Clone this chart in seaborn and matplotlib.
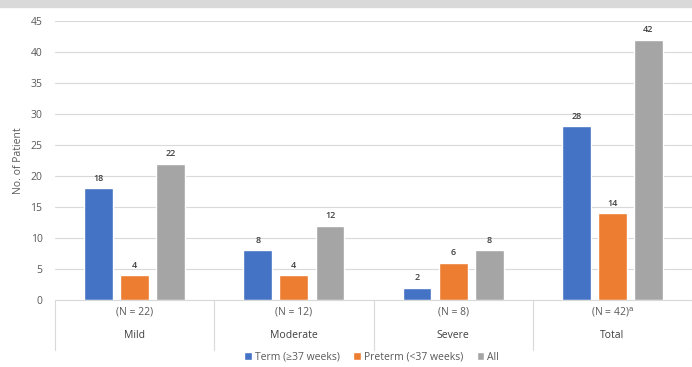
import pandas as pd
import matplotlib
matplotlib.use("Agg")
import matplotlib.pyplot as plt
import seaborn as sns
from matplotlib.patches import Rectangle
from matplotlib.transforms import blended_transform_factory

# data
categories = ["Mild", "Moderate", "Severe", "Total"]
n_labels = ["(N = 22)", "(N = 12)", "(N = 8)", "(N = 42)$^{\\mathrm{a}}$"]
series = ["Term (\u226537 weeks)", "Preterm (<37 weeks)", "All"]
term = [18, 8, 2, 28]
preterm = [4, 4, 6, 14]
all_pts = [22, 12, 8, 42]
colors = ["#4472C4", "#ED7D31", "#A5A5A5"]

rows = []
for name, vals in zip(series, [term, preterm, all_pts]):
    for cat, v in zip(categories, vals):
        rows.append({"cat": cat, "series": name, "value": v})
df = pd.DataFrame(rows)

sns.set_style("white")
plt.rcParams["font.family"] = ["Open Sans", "DejaVu Sans"]
text_col = "#595959"

fig = plt.figure(figsize=(6.92, 3.67), dpi=100)
fig.patches.append(Rectangle((0, 1 - 7 / 367), 1, 7 / 367, transform=fig.transFigure,
                             color="#D9D9D9", zorder=0))
ax = fig.add_axes([55 / 692, 1 - 300 / 367, 637 / 692, 279 / 367])

sns.barplot(data=df, x="cat", y="value", hue="series", palette=colors,
            width=0.68, gap=0.2, ax=ax, legend=True, saturation=1)

for c in ax.containers:
    ax.bar_label(c, fontsize=6.5, padding=4, color="#404040", fontweight="semibold")

ax.set_ylim(0, 45)
ax.set_yticks(range(0, 46, 5))
ax.set_xlim(-0.5, 3.5)
ax.yaxis.grid(True, color="#D9D9D9", lw=0.8)
ax.set_axisbelow(True)
for s in ["top", "right", "left"]:
    ax.spines[s].set_visible(False)
ax.spines["bottom"].set_color("#D9D9D9")
ax.tick_params(axis="y", labelsize=7.5, colors=text_col, length=0, pad=9)
ax.set_ylabel("No. of Patient", fontsize=7.5, color=text_col, labelpad=5)
ax.set_xlabel("")
ax.set_xticks([])

# two-level category axis
tr = blended_transform_factory(ax.transData, ax.transAxes)
for i, (cat, nl) in enumerate(zip(categories, n_labels)):
    ax.text(i, -12 / 279, nl, transform=tr, ha="center", va="center",
            fontsize=7.5, color=text_col)
    ax.text(i, -36 / 279, cat, transform=tr, ha="center", va="center",
            fontsize=7.5, color="#404040")
for x in [-0.5, 0.5, 1.5, 2.5, 3.5]:
    ax.plot([x, x], [0, -50 / 279], transform=tr, color="#D9D9D9", lw=0.8,
            clip_on=False)

handles, labels = ax.get_legend_handles_labels()
ax.legend(handles, labels, loc="center", bbox_to_anchor=(0.497, -57 / 279),
          ncol=3, frameon=False, fontsize=7.5, handlelength=0.7, handleheight=0.7,
          handletextpad=0.3, columnspacing=1.3, labelcolor=text_col)

fig.savefig("out.png", dpi=100)
